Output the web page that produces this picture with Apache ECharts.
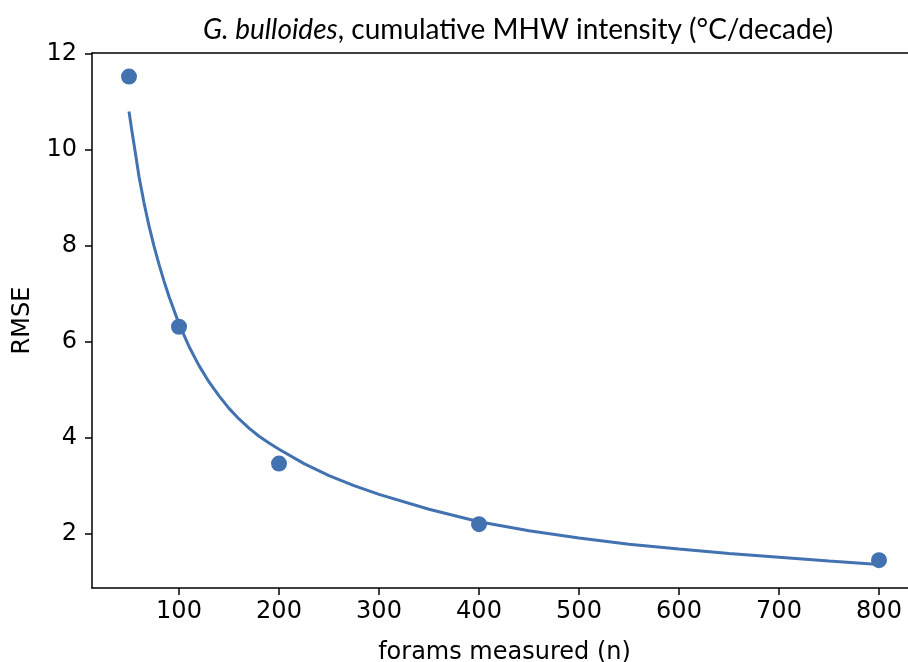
<!DOCTYPE html>
<html>
	<head>
		<meta charset="utf-8">
		<script src="https://cdn.jsdelivr.net/npm/echarts@6/dist/echarts.min.js"></script>
	</head>
	<body style="margin:0;background:#fff;">
		<div id="main" style="width:908px;height:662px;"></div>
		<script>
			// measured points
			var forams = [50, 100, 200, 400, 800];
			var rmse = [11.53, 6.32, 3.47, 2.21, 1.46];
			// fitted curve
			var fitN = [50, 52.5, 55, 60, 65, 70, 75, 80, 85, 90, 100, 110, 120, 130, 140, 150, 160, 170, 180, 190, 200, 225, 250, 275, 300, 350, 400, 450, 500, 550, 600, 650, 700, 750, 800];
			var fitRmse = [10.80, 10.45, 10.12, 9.45, 8.90, 8.42, 8.00, 7.62, 7.27, 6.95, 6.38, 5.91, 5.51, 5.17, 4.88, 4.62, 4.40, 4.21, 4.04, 3.90, 3.77, 3.47, 3.22, 3.01, 2.83, 2.52, 2.26, 2.07, 1.92, 1.79, 1.69, 1.60, 1.52, 1.44, 1.37];
			var xTicks = [100, 200, 300, 400, 500, 600, 700, 800];
			var yTicks = [2, 4, 6, 8, 10, 12];

			var blue = '#4372b0';
			var tickFont = 'DejaVu Sans';

			var pts = [];
			for (var i = 0; i < forams.length; i++) pts.push([forams[i], rmse[i]]);
			var fit = [];
			for (var i = 0; i < fitN.length; i++) fit.push([fitN[i], fitRmse[i]]);

			var option = {
				animation: false,
				title: {
					text: '{i|G. bulloides}, cumulative MHW intensity (°C/decade)',
					left: 198,
					top: 11,
					textStyle: {
						fontFamily: 'Lato',
						fontSize: 28,
						fontWeight: 'normal',
						color: '#000',
						rich: {
							i: {fontFamily: 'Lato', fontSize: 28, fontStyle: 'italic', color: '#000'}
						}
					}
				},
				grid: {left: 92, top: 53, bottom: 74, width: 825, outerBoundsMode: 'none', containLabel: false},
				xAxis: [
					{
						type: 'value',
						min: 13,
						max: 838,
						name: 'forams measured (n)',
						nameLocation: 'middle',
						nameGap: 53,
						nameTextStyle: {fontFamily: tickFont, fontSize: 24, color: '#000'},
						axisLine: {show: true, onZero: false, lineStyle: {color: '#000', width: 1.5}},
						axisTick: {show: true, length: 7, customValues: xTicks, lineStyle: {color: '#000', width: 1.5}},
						axisLabel: {customValues: xTicks, fontFamily: tickFont, fontSize: 24, color: '#000', margin: 12},
						splitLine: {show: false}
					},
					{
						type: 'value',
						position: 'top',
						min: 13,
						max: 838,
						axisLine: {show: true, onZero: false, lineStyle: {color: '#000', width: 1.5}},
						axisTick: {show: false},
						axisLabel: {show: false},
						splitLine: {show: false}
					}
				],
				yAxis: {
					type: 'value',
					min: 0.88,
					max: 12.02,
					name: 'RMSE',
					nameLocation: 'middle',
					nameGap: 57,
					nameTextStyle: {fontFamily: tickFont, fontSize: 24, color: '#000'},
					axisLine: {show: true, onZero: false, lineStyle: {color: '#000', width: 1.5}},
					axisTick: {show: true, length: 7, customValues: yTicks, lineStyle: {color: '#000', width: 1.5}},
					axisLabel: {customValues: yTicks, fontFamily: tickFont, fontSize: 24, color: '#000', margin: 15},
					splitLine: {show: false}
				},
				series: [
					{
						type: 'line',
						data: fit,
						showSymbol: false,
						smooth: false,
						lineStyle: {color: blue, width: 3},
						z: 2
					},
					{
						type: 'scatter',
						data: pts,
						symbolSize: 16,
						itemStyle: {color: blue, opacity: 1},
						z: 3
					}
				]
			};
			var myChart = echarts.init(document.getElementById('main'));
			myChart.setOption(option, true);
		</script>
	</body>
</html>
